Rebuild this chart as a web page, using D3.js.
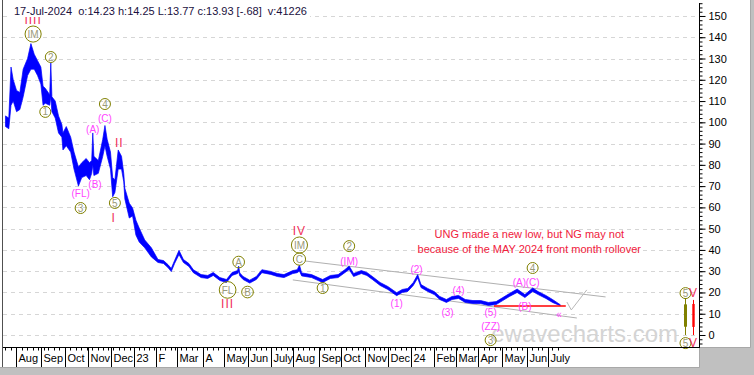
<!DOCTYPE html>
<html>
<head>
<meta charset="utf-8">
<script src="https://cdn.jsdelivr.net/npm/d3@7"></script>
<style>
  body { margin: 0; background: #c0c0c0; }
  svg { display: block; font-family: Arial, "Liberation Sans", sans-serif; }
</style>
</head>
<body>
<script>
// UNG daily price band, sampled where the trace turns (date, high, low)
const priceDates = [
  "2022-07-18","2022-07-21","2022-07-25","2022-07-27","2022-08-01","2022-08-04","2022-08-09","2022-08-15",
  "2022-08-18","2022-08-23","2022-08-26","2022-08-31","2022-09-02","2022-09-07","2022-09-13","2022-09-14",
  "2022-09-15","2022-09-20","2022-09-23","2022-09-28","2022-09-29","2022-10-04","2022-10-10","2022-10-13",
  "2022-10-19","2022-10-24","2022-10-28","2022-11-02","2022-11-04","2022-11-07","2022-11-08","2022-11-14",
  "2022-11-18","2022-11-22","2022-11-25","2022-11-30","2022-12-02","2022-12-06","2022-12-09","2022-12-14",
  "2022-12-16","2022-12-19","2022-12-23","2022-12-29","2023-01-04","2023-01-09","2023-01-17","2023-01-25",
  "2023-02-02","2023-02-09","2023-02-15","2023-02-21","2023-02-24","2023-03-02","2023-03-08","2023-03-15",
  "2023-03-21","2023-03-30","2023-04-10","2023-04-17","2023-04-25","2023-05-03","2023-05-10","2023-05-17",
  "2023-05-18","2023-05-19","2023-05-24","2023-06-02","2023-06-12","2023-06-20","2023-06-30","2023-07-11",
  "2023-07-19","2023-07-31","2023-08-04","2023-08-08","2023-08-10","2023-08-23","2023-08-31","2023-09-07",
  "2023-09-18","2023-09-27","2023-10-05","2023-10-11","2023-10-17","2023-10-26","2023-11-02","2023-11-09",
  "2023-11-20","2023-11-30","2023-12-12","2023-12-19","2023-12-27","2024-01-04","2024-01-10","2024-01-16",
  "2024-01-24","2024-02-01","2024-02-08","2024-02-16","2024-02-26","2024-03-05","2024-03-13","2024-03-22",
  "2024-04-03","2024-04-12","2024-04-23","2024-05-01","2024-05-09","2024-05-20","2024-05-30","2024-06-10",
  "2024-06-17","2024-06-27","2024-07-08","2024-07-17"
];
const priceHigh = [
  103,102,126,120,115,114,125,130, 137,132,129,126,117,116,113,128,
  112,110,103,99,95,98,93,86, 79,81,83,81,82,95,84,82,
  92,98.5,92,86,74,73,87,84, 76,69,62,59.7,54,50.3,44.7,41,
  35.5,35,33.1,31.3,35,39.8,35.5,33.6, 30.7,28.4,28,29.4,27,26.1,29.4,30.3,
  32.4,29.2,27.5,25.8,27.5,30.7,29.9,28.9, 28.4,30.3,30.7,32.9,29.2,28.4,27,26.1,
  28,28.4,30.7,32.4,28.9,30.3,29.4,27.5, 24.7,22.8,19.9,21.4,21.9,24.7,28.4,23.7,
  21.9,20.4,18.1,16.7,18.1,18.6,16.7,16.2, 16.2,15.3,15.7,17.6,19.5,21.6,19,22.1,
  20.4,18.6,16.7,14.25
];
const priceLow = [
  98,97,108,110,105,106,112,122, 125,125,122,118,108,109,108,112,
  105,102,95,93,87,89,86,78, 70,74,75,73,76,80,75,76,
  84,89,84,78,65,67,78,78, 72,64,55,56,47,43.7,41,36.7,
  34.1,33.6,31.7,29.8,33.6,37.8,34.1,32.2, 29.3,27,26.6,28,25.6,24.7,28,28.9,
  29.8,27.8,26.1,24.4,26.1,29.3,28.5,27.5, 27,28.9,29.3,30.1,27.8,27,25.6,24.7,
  26.6,27,29.3,30.8,27.5,28.9,28,26.1, 23.3,21.4,18.5,20,20.5,23.3,26.8,22.3,
  20.5,19,16.7,15.3,16.7,17.2,15.3,14.8, 14.8,13.9,14.3,16.2,18.1,20,17.6,20.5,
  19,17.2,15.3,13.77
];

// last bar read-out
const lastBar = { date: "17-Jul-2024", o: "14.23", h: "14.25", l: "13.77", c: "13.93", chg: "-.68", v: "41226" };

// US market holidays used for the trading-day axis
const holidays = [
  "2022-07-04","2022-09-05","2022-11-24","2022-12-26",
  "2023-01-02","2023-01-16","2023-02-20","2023-04-07","2023-05-29","2023-06-19","2023-07-04","2023-09-04","2023-11-23","2023-12-25",
  "2024-01-01","2024-01-15","2024-02-19","2024-03-29","2024-05-27","2024-06-19","2024-07-04","2024-09-02","2024-11-28","2024-12-25"
];

const monthStarts = [
  "2022-08-01","2022-09-01","2022-10-01","2022-11-01","2022-12-01","2023-01-01","2023-02-01","2023-03-01",
  "2023-04-01","2023-05-01","2023-06-01","2023-07-01","2023-08-01","2023-09-01","2023-10-01","2023-11-01",
  "2023-12-01","2024-01-01","2024-02-01","2024-03-01","2024-04-01","2024-05-01","2024-06-01","2024-07-01"
];
const monthLabels = [
  "Aug","Sep","Oct","Nov","Dec","23","F","Mar","A","May","Jun","July",
  "Aug","Sep","Oct","Nov","Dec","24","Feb","Mar","Apr","May","Jun","July"
];
const yMajor = d3.range(0, 151, 10);
const yMinor = d3.range(-4, 157, 2);

// wave labels: kind r = roman (red), c = circled, m = magenta
const waveText  = ["IIII","IM","2","1","4","(C)","(A)","II","(B)","(FL)","3","5","I",
                   "A","FL","III","B","IV","IM","C","1","2","(IM)",
                   "(1)","(2)","(3)","(4)","(5)","(ZZ)","3","4","(A)","(C)","(B)","«"];
const waveKind  = ["r","c","c","c","c","m","m","r","m","m","c","c","r",
                   "c","c","r","c","r","c","c","c","c","m",
                   "m","m","m","m","m","m","c","c","m","m","m","m"];
const waveDate  = ["2022-08-22","2022-08-22","2022-09-14","2022-09-07","2022-11-22","2022-11-22","2022-11-07","2022-12-12",
                   "2022-11-09","2022-10-21","2022-10-21","2022-12-06","2022-12-05",
                   "2023-05-18","2023-05-04","2023-05-04","2023-05-31","2023-08-08","2023-08-08","2023-08-08","2023-09-07",
                   "2023-10-11","2023-10-11",
                   "2023-12-12","2024-01-09","2024-02-20","2024-03-05","2024-04-16","2024-04-16","2024-04-16",
                   "2024-06-10","2024-05-22","2024-06-10","2024-05-30","2024-07-16"];
const waveValue = [148.2,141.5,130.7,104.9,108.6,102,96.9,90.3,71,66.8,59.7,62.1,55,
                   34.3,21.2,14.6,20.2,48.9,42.3,35.7,22.1,41.8,34.8,
                   15,31,10.8,21.2,10.8,4.2,-2.4,31.5,24.9,24.9,13.6,9.9];

// trend channel and projection
const channelUpper = { dates: ["2023-08-15","2024-09-13"], values: [34.8, 17.9] };
const channelLower = { dates: ["2023-07-31","2024-08-07"], values: [25.9, 8.0] };
const projection   = { dates: ["2024-07-25","2024-07-31","2024-08-20"], values: [15.5, 11.8, 21.2] };
const lowLine      = { dates: ["2024-04-19","2024-07-24"], value: 13.6 };

const noteLines = ["UNG made a new low, but NG may not", "because of the MAY 2024 front month rollover"];
const noteAt = { date: "2024-06-05", values: [45.4, 38.4] };

// wave-degree key at the right edge
const keyCandles = [
  { color: "#808000", body: [3.9, 14.4], wick: [0, 17.4], label: "5", kind: "c" },
  { color: "#ff0000", body: [3.8, 14.6], wick: [0, 16.5], label: "V", kind: "r" }
];
const keyLabelValues = [19.7, -3.8];

// ---------------------------------------------------------------------------
const W = 754, H = 375;
const plot = { left: 3, right: 699, top: 3, bottom: 347 };
const stripBottom = 367, panelRight = 750;

const tradingDays = [];
for (let d = new Date(Date.UTC(2022, 6, 1)); d <= new Date(Date.UTC(2024, 11, 31)); d.setUTCDate(d.getUTCDate() + 1)) {
  const wd = d.getUTCDay();
  const s = d.toISOString().slice(0, 10);
  if (wd !== 0 && wd !== 6 && !holidays.includes(s)) tradingDays.push(s);
}
const tIdx = s => d3.bisectLeft(tradingDays, s);
const i0 = tIdx("2022-08-01");

const x = d3.scaleLinear().domain([i0 - 11.8, i0 + 618]).range([plot.left, plot.right]);
const y = d3.scaleLinear().domain([-5.64, 156.1]).range([plot.bottom, plot.top]);
const xd = s => x(tIdx(s)) + 0.5;

const svg = d3.select("body").append("svg")
    .attr("width", W)
    .attr("height", H);

svg.append("rect").attr("width", W).attr("height", H).attr("fill", "#c0c0c0");
svg.append("rect").attr("width", panelRight).attr("height", plot.bottom).attr("fill", "#fff");
svg.append("rect").attr("y", plot.bottom).attr("width", plot.right).attr("height", stripBottom - plot.bottom).attr("fill", "#fff");
svg.append("path")
    .attr("d", `M${panelRight + 0.5},0V${plot.bottom + 0.5}H${plot.right + 0.5}V${stripBottom + 0.5}H0`)
    .attr("fill", "none").attr("stroke", "#a8a8a8");
svg.append("line")
    .attr("x1", 2.5).attr("x2", 2.5).attr("y1", 0).attr("y2", stripBottom)
    .attr("stroke", "#505050");

// grid
svg.append("g")
  .selectAll("line")
  .data(yMajor)
  .join("line")
    .attr("x1", plot.left).attr("x2", plot.right)
    .attr("y1", d => Math.round(y(d)) + 0.5).attr("y2", d => Math.round(y(d)) + 0.5)
    .attr("stroke", "#d6d6d6")
    .attr("stroke-dasharray", "4,4");

// watermark
svg.append("text")
    .attr("x", 678).attr("y", 342)
    .attr("text-anchor", "end")
    .attr("font-size", 24)
    .attr("fill", "#d4d4d4")
    .text("ewavecharts.com");

const plotG = svg.append("g");

// channel + projection
const line = d3.line().x(d => xd(d[0])).y(d => y(d[1]));
[channelUpper, channelLower].forEach(c => {
  plotG.append("path")
      .attr("d", line(c.dates.map((d, i) => [d, c.values[i]])))
      .attr("fill", "none").attr("stroke", "#b0b0b0");
});
plotG.append("path")
    .attr("d", line(projection.dates.map((d, i) => [d, projection.values[i]])))
    .attr("fill", "none").attr("stroke", "#b8b8b8");

// price band
const pts = priceDates.map((d, k) => ({ i: tIdx(d), hi: priceHigh[k], lo: priceLow[k] }));
const band = d3.area()
    .x(d => x(d.i) + 0.5)
    .y0(d => y(d.lo))
    .y1(d => y(d.hi));
plotG.append("path")
    .datum(pts)
    .attr("d", band)
    .attr("fill", "#0000ff")
    .attr("stroke", "#0000ff")
    .attr("stroke-width", 0.7)
    .attr("stroke-linejoin", "round");

// red low line
plotG.append("line")
    .attr("x1", xd(lowLine.dates[0])).attr("x2", xd(lowLine.dates[1]))
    .attr("y1", y(lowLine.value)).attr("y2", y(lowLine.value))
    .attr("stroke", "#ff0000").attr("stroke-width", 1.5);

// note
plotG.append("g")
    .attr("font-size", 11)
    .attr("fill", "#f0203c")
    .attr("text-anchor", "middle")
  .selectAll("text")
  .data(noteLines)
  .join("text")
    .attr("x", xd(noteAt.date))
    .attr("y", (d, i) => y(noteAt.values[i]))
    .text(d => d);

// wave labels
const labelColor = { r: "#f0305a", m: "#ff44ff", c: "#9a9a7a" };
const labelSize = { r: 12, c: 10, m: 10 };
function drawLabel(g, cx, cy, text, kind) {
  const t = g.append("text")
      .attr("x", cx).attr("y", cy)
      .attr("text-anchor", "middle")
      .attr("dy", "0.36em")
      .attr("font-size", labelSize[kind])
      .attr("fill", labelColor[kind])
      .attr("letter-spacing", kind === "r" ? 1 : 0)
      .text(text);
  if (kind === "c") {
    const w = t.node().getComputedTextLength();
    g.insert("circle", "text")
        .attr("cx", cx).attr("cy", cy)
        .attr("r", Math.max(5.5, w / 2 + 2.5))
        .attr("fill", "none")
        .attr("stroke", "#808000");
  }
}
const labelG = plotG.append("g");
waveText.forEach((t, k) => {
  const g = labelG.append("g");
  drawLabel(g, xd(waveDate[k]), y(waveValue[k]), t, waveKind[k]);
});

// wave-degree key at right edge
const keyX = [plot.right - 13.5, plot.right - 5.5];
keyCandles.forEach((c, k) => {
  const g = svg.append("g");
  g.append("line")
      .attr("x1", keyX[k]).attr("x2", keyX[k])
      .attr("y1", y(c.wick[1])).attr("y2", y(c.wick[0]))
      .attr("stroke", c.color);
  g.append("rect")
      .attr("x", keyX[k] - (k === 0 ? 1.5 : 1.2)).attr("width", k === 0 ? 3 : 2.4)
      .attr("y", y(c.body[1])).attr("height", y(c.body[0]) - y(c.body[1]))
      .attr("fill", c.color);
  keyLabelValues.forEach(v => drawLabel(g, keyX[k], y(v), c.label, c.kind));
});

// axes
svg.append("line")
    .attr("x1", plot.left).attr("x2", plot.right + 1)
    .attr("y1", plot.bottom + 0.5).attr("y2", plot.bottom + 0.5)
    .attr("stroke", "#000");

const yMinorAxis = svg.append("g")
    .attr("transform", `translate(${plot.right + 0.5},0)`)
    .call(d3.axisRight(y).tickValues(yMinor).tickSize(3).tickSizeOuter(0).tickFormat(""));
yMinorAxis.select(".domain").remove();
const yAxis = svg.append("g")
    .attr("transform", `translate(${plot.right + 0.5},0)`)
    .call(d3.axisRight(y).tickValues(yMajor).tickSize(6).tickPadding(3).tickSizeOuter(0));
yAxis.select(".domain").remove();
yAxis.selectAll("text").attr("font-size", 11).attr("font-family", "Arial, 'Liberation Sans', sans-serif").attr("fill", "#000");
svg.append("line")
    .attr("x1", plot.right + 0.5).attr("x2", plot.right + 0.5)
    .attr("y1", plot.top).attr("y2", plot.bottom + 1)
    .attr("stroke", "#000");

// x axis: weekly ticks, month separators and labels
const weekStarts = tradingDays
  .map((s, i) => ({ s, i }))
  .filter((d, k, a) => k > 0 && new Date(d.s).getUTCDay() < new Date(a[k - 1].s).getUTCDay())
  .filter(d => x(d.i) > plot.left && x(d.i) < 560);
svg.append("g")
  .selectAll("line")
  .data(weekStarts)
  .join("line")
    .attr("x1", d => Math.round(x(d.i)) + 0.5).attr("x2", d => Math.round(x(d.i)) + 0.5)
    .attr("y1", plot.bottom).attr("y2", plot.bottom + 3.5)
    .attr("stroke", "#000");

const months = svg.append("g")
  .selectAll("g")
  .data(monthStarts.map((m, k) => ({ i: tIdx(m), label: monthLabels[k] })))
  .join("g")
    .attr("transform", d => `translate(${Math.round(x(d.i)) + 0.5},0)`);
months.append("line")
    .attr("y1", plot.bottom).attr("y2", stripBottom)
    .attr("stroke", "#000");
months.append("text")
    .attr("x", 2).attr("y", 362)
    .attr("font-size", 11)
    .attr("fill", "#000")
    .text(d => d.label);

// header read-out
svg.append("rect").attr("x", 10).attr("y", 3).attr("width", 300).attr("height", 14).attr("fill", "#fff");
svg.append("text")
    .attr("x", 14).attr("y", 15)
    .attr("font-size", 11)
    .attr("fill", "#1a1040")
    .style("white-space", "pre")
    .text(`${lastBar.date}  o:${lastBar.o} h:${lastBar.h} L:${lastBar.l} c:${lastBar.c} [${lastBar.chg}]  v:${lastBar.v}`);
</script>
</body>
</html>
